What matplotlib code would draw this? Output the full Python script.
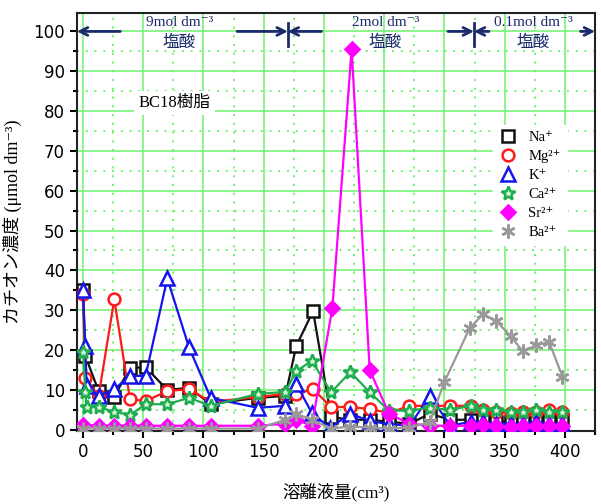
import matplotlib
matplotlib.use("Agg")
import matplotlib.pyplot as plt
from matplotlib.ticker import MultipleLocator

# ---------------- data ----------------
na_x = [0, 2, 13, 26, 39, 52, 70, 88, 106, 145, 168, 177, 191, 206, 222, 238, 254, 271, 288, 305, 322, 332, 343, 355, 365, 376, 387, 398]
na_y = [35, 18.5, 9.7, 8.3, 15.5, 15.7, 10, 10.5, 6.5, 8, 8.5, 21, 29.8, 3.2, 2.5, 2.5, 2, 1.5, 4, 2.5, 2.5, 2.5, 2, 2, 2, 2.5, 2, 2.5]

mg_x = [0, 2, 13, 26, 39, 52, 70, 88, 106, 145, 168, 177, 191, 206, 222, 238, 254, 271, 288, 305, 322, 332, 343, 355, 365, 376, 387, 398]
mg_y = [34, 13, 8.5, 32.7, 7.7, 7.2, 9.7, 10.2, 7, 8.2, 9, 9, 10.2, 5.7, 5.7, 5.2, 4.2, 6, 6, 6, 6, 5, 4.5, 4.2, 4.5, 4.5, 5, 4.5]

k_x = [0, 2, 3, 13, 26, 39, 52, 70, 88, 106, 145, 168, 177, 190, 205, 222, 238, 254, 271, 288, 305, 322, 332, 343, 355, 365, 376, 387, 398]
k_y = [35, 21, 11, 8.5, 10.2, 13.5, 13.5, 38, 20.7, 8, 5.5, 6, 11.5, 4.2, 0.5, 4, 2.2, 1.4, 1, 8.5, 1, 2, 2, 1.5, 1.5, 1.5, 2, 1.5, 1.5]

ca_x = [0, 2, 3, 13, 26, 39, 52, 70, 88, 106, 145, 168, 177, 190, 206, 222, 238, 254, 271, 288, 305, 322, 332, 343, 355, 365, 376, 387, 398]
ca_y = [19.5, 9.5, 5.7, 5.7, 4.5, 3.7, 6.4, 6.4, 8, 6, 9, 9.5, 14.7, 17.3, 9.4, 14.5, 9.4, 4.8, 4.8, 5.5, 5, 6, 5, 5, 4.5, 4.5, 5, 4.5, 4.5]

sr_x = [0, 13, 26, 39, 52, 70, 88, 106, 145, 168, 177, 190, 207, 223, 238, 254, 271, 288, 305, 322, 332, 343, 355, 365, 376, 387, 398]
sr_y = [1.2, 1, 1, 1, 1, 1, 1, 1, 1, 1.5, 2.5, 1, 30.5, 95.5, 15, 4, 1.5, 1, 1, 1, 1.2, 1, 0.8, 1, 1, 1, 1]

ba_x = [0, 13, 26, 39, 52, 70, 88, 106, 145, 168, 177, 190, 206, 222, 238, 254, 271, 288, 300, 321, 332, 343, 355, 365, 376, 387, 398]
ba_y = [0.3, 0.3, 0.3, 0.3, 0.3, 0.3, 0.3, 0.3, 0.3, 2.5, 4, 2.5, 0.3, 0.8, 0.5, 0.3, 0.5, 2, 12, 25.5, 29, 27.3, 23.5, 19.7, 21.2, 22, 13.3]

labels = ["Na⁺", "Mg²⁺", "K⁺", "Ca²⁺", "Sr²⁺", "Ba²⁺"]
x_ticks = [0, 50, 100, 150, 200, 250, 300, 350, 400]
y_ticks = [0, 10, 20, 30, 40, 50, 60, 70, 80, 90, 100]
regions = ["9mol dm⁻³", "2mol dm⁻³", "0.1mol dm⁻³"]
acid = "塩酸"

# ---------------- figure ----------------
fig = plt.figure(figsize=(6.01, 5.04), dpi=100)
ax = fig.add_axes([0.128, 0.145, 0.862, 0.829])
ax.set_xlim(-5, 425)
ax.set_ylim(-0.3, 104.6)

green = "#6cf26c"
for xv in range(0, 426, 50):
    ax.axvline(xv, color=green, lw=1.1, zorder=0)
for xv in range(25, 426, 50):
    ax.axvline(xv, color=green, lw=1.4, ls=(0, (1, 3.5)), zorder=0)
for yv in range(10, 101, 10):
    ax.axhline(yv, color=green, lw=1.1, zorder=0)
for yv in range(5, 101, 10):
    ax.axhline(yv, color=green, lw=1.4, ls=(0, (1, 3.5)), zorder=0)

series = [
    (na_x, na_y, "#111111", "s", 8, "white"),
    (mg_x, mg_y, "#ff1a1a", "o", 8.5, "white"),
    (k_x, k_y, "#1414ee", "^", 9.5, "white"),
    (ca_x, ca_y, "#1fae4f", "*", 10.5, "#d8f5d8"),
    (sr_x, sr_y, "#ff00ff", "D", 7.5, "#ff00ff"),
    (ba_x, ba_y, "#999999", (6, 2, 0), 10, "#999999"),
]
for (xs, ys, c, m, ms, mfc), lab in zip(series, labels):
    ax.plot(xs, ys, color=c, marker=m, ms=ms, mfc=mfc, mec=c, mew=1.8,
            lw=1.6, label=lab, zorder=3)

# ticks
ax.xaxis.set_minor_locator(MultipleLocator(25))
ax.yaxis.set_minor_locator(MultipleLocator(5))
ax.tick_params(which="major", length=5, width=1.5, direction="out")
ax.tick_params(which="minor", length=3, width=1.5, direction="out")
ax.set_xticks(x_ticks)
ax.set_yticks(y_ticks)
tickfont = {"family": ["Liberation Sans Narrow", "DejaVu Sans"], "size": 12}
ax.set_xticklabels([str(v) for v in x_ticks], fontdict=tickfont)
ax.set_yticklabels([str(v) for v in y_ticks], fontdict=tickfont)
for s in ax.spines.values():
    s.set_linewidth(1.5)
    s.set_color("#222222")

jp = ["Liberation Serif", "Noto Sans CJK JP", "DejaVu Serif"]
ax.set_ylabel("カチオン濃度 (μmol dm⁻³)", family=jp, fontsize=13, labelpad=8)
ax.set_xlabel("溶離液量(cm³)", family=jp, fontsize=12.5, labelpad=16)

# top annotations
navy = "#1a2a6c"
arr = dict(arrowstyle="->", color=navy, lw=2, mutation_scale=14, shrinkA=0, shrinkB=0)
for start, end in [(31, -5), (128, 170), (198, 170), (303, 324.5), (337, 324.5), (413, 425)]:
    ax.annotate("", xy=(end, 100), xytext=(start, 100), arrowprops=arr, zorder=5)
for bx in (170, 324.5):
    ax.plot([bx, bx], [96.3, 102.2], color=navy, lw=2, zorder=5)
for cx, t in zip([80, 251, 374], regions):
    ax.text(cx, 102.2, t, ha="center", va="center", color=navy, family=jp, fontsize=11, zorder=6)
    ax.text(cx, 97.0, acid, ha="center", va="center", color=navy, family=jp, fontsize=12, zorder=6)

ax.text(76, 82, "BC18樹脂", ha="center", va="center", family=jp, fontsize=12,
        bbox=dict(facecolor="white", edgecolor="none", pad=3), zorder=6)

leg = ax.legend(loc="upper left", bbox_to_anchor=(0.79, 0.75), frameon=True,
                facecolor="white", edgecolor="white", framealpha=1,
                prop={"family": ["Liberation Serif", "DejaVu Serif"], "size": 10.5},
                handlelength=1.2, handletextpad=0.8, labelspacing=0.4, borderpad=0.4)
for line in leg.get_lines():
    line.set_linestyle("none")
leg.set_zorder(7)

fig.savefig("out.png", dpi=100)
